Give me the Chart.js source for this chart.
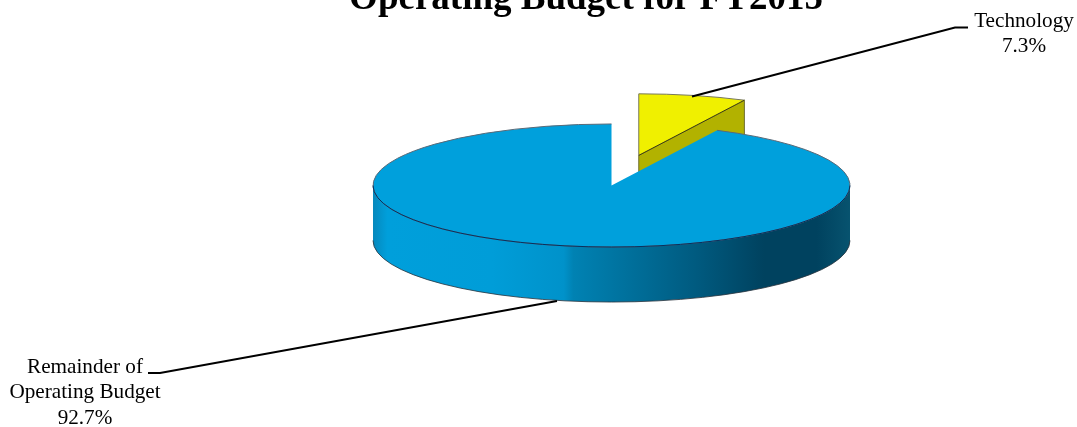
<!DOCTYPE html>
<html>
<head>
<meta charset="utf-8">
<title>Operating Budget for FY2015</title>
<script src="https://cdn.jsdelivr.net/npm/chart.js@4"></script>
<style>
    html, body { margin: 0; padding: 0; background: #fff; }
    canvas { display: block; }
</style>
</head>
<body>
<canvas id="budgetPie" width="1077" height="427"></canvas>
<script>
const titleText = 'Operating Budget for FY2015';
const categories = ['Technology', 'Remainder of Operating Budget'];
const shares = [7.3, 92.7];
const labelLines = [['Technology'], ['Remainder of', 'Operating Budget']];

const topColors = ['#f0f000', '#00a0dc'];

// tilt of the pie and how far the wall hangs below the top face
const squash = 0.258;
const depth = 55;
const explode = [120, 0];

function sliceShift(arc, i) {
    const mid = (arc.startAngle + arc.endAngle) / 2;
    return {
        x: Math.cos(mid) * explode[i],
        y: Math.sin(mid) * explode[i] * squash
    };
}

function rimPoint(arc, angle, shift) {
    return {
        x: arc.x + shift.x + Math.cos(angle) * arc.outerRadius,
        y: arc.y + shift.y + Math.sin(angle) * arc.outerRadius * squash
    };
}

// straight wall on the cut side of the pulled out slice
function drawCutWall(ctx, arc, shift) {
    const p = rimPoint(arc, arc.endAngle, shift);
    const cx = arc.x + shift.x, cy = arc.y + shift.y;
    ctx.beginPath();
    ctx.moveTo(cx, cy);
    ctx.lineTo(p.x, p.y);
    ctx.lineTo(p.x, p.y + depth);
    ctx.lineTo(cx, cy + depth);
    ctx.closePath();
    ctx.fillStyle = '#b2b200';
    ctx.fill();
    ctx.strokeStyle = '#6e6e30';
    ctx.lineWidth = 1;
    ctx.stroke();
}

// front rim of the big slice, shaded left to right
function drawRimWall(ctx, arc) {
    const r = arc.outerRadius;
    const grad = ctx.createLinearGradient(arc.x - r, 0, arc.x + r, 0);
    grad.addColorStop(0, '#0688bc');
    grad.addColorStop(0.03, '#009fdb');
    grad.addColorStop(0.25, '#009dd8');
    grad.addColorStop(0.40, '#0092ca');
    grad.addColorStop(0.42, '#0082b3');
    grad.addColorStop(0.68, '#005a7f');
    grad.addColorStop(0.82, '#00425f');
    grad.addColorStop(0.93, '#00425f');
    grad.addColorStop(1, '#07536f');
    ctx.beginPath();
    ctx.ellipse(arc.x, arc.y, r, r * squash, 0, 0, Math.PI);
    ctx.ellipse(arc.x, arc.y + depth, r, r * squash, 0, Math.PI, 0, true);
    ctx.closePath();
    ctx.fillStyle = grad;
    ctx.fill();
    ctx.strokeStyle = 'rgba(40, 50, 60, 0.8)';
    ctx.lineWidth = 1;
    ctx.beginPath();
    ctx.ellipse(arc.x, arc.y + depth, r, r * squash, 0, Math.PI, 0, true);
    ctx.stroke();
}

const pie3d = {
    id: 'pie3d',
    beforeDatasetDraw(chart, args) {
        const ctx = chart.ctx;
        const arcs = args.meta.data;
        const shifts = arcs.map(sliceShift);

        drawCutWall(ctx, arcs[0], shifts[0]);
        drawRimWall(ctx, arcs[1]);

        // top faces come from the library's own arc elements, flattened
        arcs.forEach((arc, i) => {
            ctx.save();
            ctx.translate(shifts[i].x, arc.y + shifts[i].y);
            ctx.scale(1, squash);
            ctx.translate(0, -arc.y);
            arc.draw(ctx);
            ctx.restore();
        });

        // outline of the small slice
        const a = arcs[0], s = shifts[0];
        const cx = a.x + s.x, cy = a.y + s.y;
        const start = rimPoint(a, a.startAngle, s);
        const end = rimPoint(a, a.endAngle, s);
        ctx.lineWidth = 1;
        ctx.strokeStyle = '#77775a';
        ctx.beginPath();
        ctx.moveTo(cx, cy);
        ctx.lineTo(start.x, start.y);
        ctx.ellipse(cx, cy, a.outerRadius, a.outerRadius * squash, 0, a.startAngle, a.endAngle);
        ctx.stroke();
        ctx.strokeStyle = '#3c3c10';
        ctx.beginPath();
        ctx.moveTo(end.x, end.y);
        ctx.lineTo(cx, cy);
        ctx.stroke();

        // rim of the big slice, darker along the front edge
        const b = arcs[1];
        ctx.strokeStyle = '#5a6a78';
        ctx.beginPath();
        ctx.ellipse(b.x, b.y, b.outerRadius, b.outerRadius * squash, 0, b.startAngle, Math.PI * 1.5);
        ctx.stroke();
        ctx.strokeStyle = '#06305e';
        ctx.beginPath();
        ctx.ellipse(b.x, b.y, b.outerRadius, b.outerRadius * squash, 0, 0, Math.PI);
        ctx.stroke();
        return false;
    },
    afterDraw(chart) {
        const ctx = chart.ctx;
        ctx.save();
        ctx.fillStyle = '#000';
        ctx.textAlign = 'center';
        ctx.textBaseline = 'alphabetic';

        ctx.font = 'bold 37px "Liberation Serif"';
        ctx.fillText(titleText, 586, 9);

        ctx.font = '21.2px "Liberation Serif"';
        const anchors = [{ x: 1024, y: 27 }, { x: 85, y: 373 }];
        labelLines.forEach((lines, i) => {
            const rows = lines.concat(shares[i].toFixed(1) + '%');
            rows.forEach((row, r) => ctx.fillText(row, anchors[i].x, anchors[i].y + r * 25.3));
        });

        // leader lines
        ctx.strokeStyle = '#000';
        ctx.lineWidth = 2;
        ctx.beginPath();
        ctx.moveTo(692, 96.5);
        ctx.lineTo(955, 27.5);
        ctx.lineTo(968, 27.5);
        ctx.moveTo(557, 301);
        ctx.lineTo(160, 373);
        ctx.lineTo(148, 373);
        ctx.stroke();
        ctx.restore();
    }
};

new Chart(document.getElementById('budgetPie'), {
    type: 'pie',
    data: {
        labels: categories,
        datasets: [{
            data: shares,
            backgroundColor: topColors,
            borderWidth: 0,
            clip: false
        }]
    },
    options: {
        responsive: false,
        animation: false,
        radius: 238.5,
        events: [],
        layout: { padding: { left: 146, bottom: 56 } },
        plugins: {
            legend: { display: false },
            tooltip: { enabled: false }
        }
    },
    plugins: [pie3d]
});
</script>
</body>
</html>
